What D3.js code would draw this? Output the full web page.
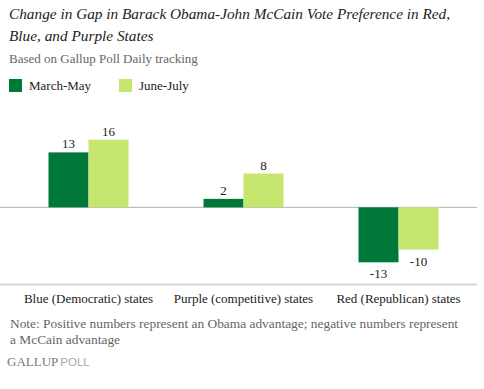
<!DOCTYPE html>
<html lang="en">
<head>
<meta charset="UTF-8">
<title>Gap chart</title>
<script src="https://cdn.jsdelivr.net/npm/d3@7"></script>
<style>
    body { margin: 0; background: #fff; }
    text { font-family: "Liberation Serif", "DejaVu Serif", serif; }
</style>
</head>
<body>
<div id="chart"></div>
<script>
    const categories = ["Blue (Democratic) states", "Purple (competitive) states", "Red (Republican) states"];
    const seriesNames = ["March-May", "June-July"];
    const marchMay = [13, 2, -13];
    const juneJuly = [16, 8, -10];
    const seriesColors = ["#00783a", "#c6e670"];

    const width = 484;
    const height = 389;

    const svg = d3.select("#chart")
        .append("svg")
        .attr("width", width)
        .attr("height", height);

    // title + subtitle
    svg.append("text")
        .attr("x", 9).attr("y", 19)
        .style("font-style", "italic")
        .style("font-size", "15.3px")
        .attr("fill", "#222")
        .text("Change in Gap in Barack Obama-John McCain Vote Preference in Red,");
    svg.append("text")
        .attr("x", 9).attr("y", 41)
        .style("font-style", "italic")
        .style("font-size", "15.3px")
        .attr("fill", "#222")
        .text("Blue, and Purple States");
    svg.append("text")
        .attr("x", 9).attr("y", 63)
        .style("font-size", "13px")
        .attr("fill", "#666")
        .text("Based on Gallup Poll Daily tracking");

    // legend
    const legend = svg.append("g").attr("transform", "translate(9,79)");
    const legendX = [0, 110];
    seriesNames.forEach(function (name, i) {
        const g = legend.append("g").attr("transform", "translate(" + legendX[i] + ",0)");
        g.append("rect").attr("width", 13).attr("height", 13).attr("fill", seriesColors[i]);
        g.append("text").attr("x", 20).attr("y", 11)
            .style("font-size", "13px").attr("fill", "#222").text(name);
    });

    const rows = categories.map(function (c, i) {
        return {category: c, values: [marchMay[i], juneJuly[i]]};
    });

    const x0 = d3.scaleBand().domain(categories).range([11, 476]).padding(0);
    const x1 = d3.scaleBand().domain(seriesNames)
        .range([x0.bandwidth() / 2 - 40, x0.bandwidth() / 2 + 40]);
    const y = d3.scaleLinear().domain([-13, 16]).range([262.3, 139.7]);

    // zero line
    svg.append("line")
        .attr("x1", 0).attr("x2", 477)
        .attr("y1", y(0)).attr("y2", y(0))
        .attr("stroke", "#b0b0b0").attr("stroke-width", 1);

    const groups = svg.selectAll("g.group").data(rows).enter()
        .append("g")
        .attr("class", "group")
        .attr("transform", function (d) { return "translate(" + x0(d.category) + ",0)"; });

    groups.selectAll("rect.bar")
        .data(function (d) { return d.values.map(function (v, i) { return {s: seriesNames[i], v: v, i: i}; }); })
        .enter()
        .append("rect")
        .attr("class", "bar")
        .attr("x", function (d) { return x1(d.s); })
        .attr("width", x1.bandwidth())
        .attr("y", function (d) { return Math.min(y(d.v), y(0)); })
        .attr("height", function (d) { return Math.abs(y(d.v) - y(0)); })
        .attr("fill", function (d) { return seriesColors[d.i]; });

    groups.selectAll("text.val")
        .data(function (d) { return d.values.map(function (v, i) { return {s: seriesNames[i], v: v}; }); })
        .enter()
        .append("text")
        .attr("class", "val")
        .attr("x", function (d) { return x1(d.s) + x1.bandwidth() / 2; })
        .attr("y", function (d) { return d.v >= 0 ? y(d.v) - 4 : y(d.v) + 16; })
        .attr("text-anchor", "middle")
        .style("font-size", "13px")
        .attr("fill", "#222")
        .text(function (d) { return d.v; });

    // bottom axis
    svg.append("line")
        .attr("x1", 0).attr("x2", 477)
        .attr("y1", 284.5).attr("y2", 284.5)
        .attr("stroke", "#d8d8d0").attr("stroke-width", 2);

    const xAxis = svg.append("g")
        .attr("transform", "translate(0,285)")
        .call(d3.axisBottom(x0).tickSize(0).tickPadding(9));
    xAxis.select(".domain").remove();
    xAxis.selectAll("text")
        .style("font-family", "'Liberation Serif', serif")
        .style("font-size", "13px")
        .attr("fill", "#222");

    // note
    svg.append("text")
        .attr("x", 10).attr("y", 328)
        .style("font-size", "13.4px").attr("fill", "#666")
        .text("Note: Positive numbers represent an Obama advantage; negative numbers represent");
    svg.append("text")
        .attr("x", 10).attr("y", 344)
        .style("font-size", "13.4px").attr("fill", "#666")
        .text("a McCain advantage");

    // logo
    const logo = svg.append("text").attr("x", 7).attr("y", 366);
    logo.append("tspan")
        .style("font-size", "13px").attr("fill", "#777")
        .text("GALLUP");
    logo.append("tspan")
        .attr("dx", 2)
        .style("font-family", "'Liberation Sans', sans-serif")
        .style("font-size", "11.5px").attr("fill", "#aaa")
        .text("POLL");
</script>
</body>
</html>
